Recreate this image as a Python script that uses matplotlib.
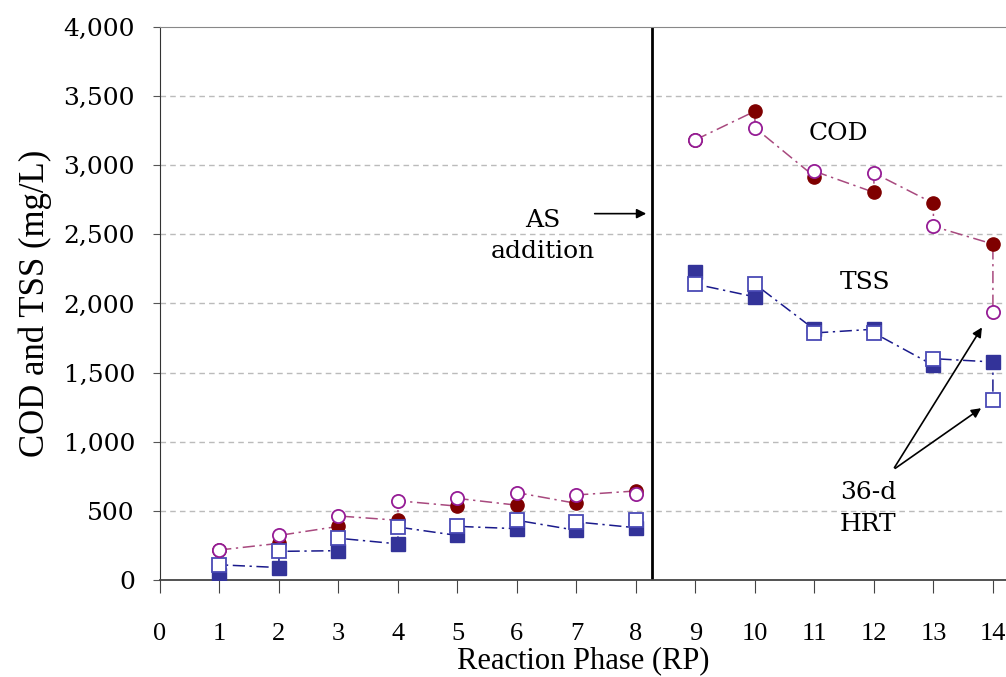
import numpy as np
import matplotlib
matplotlib.use("Agg")
import matplotlib.pyplot as plt

plt.rcParams['font.family'] = ['DejaVu Serif']

# reaction phases
rp = [1, 2, 3, 4, 5, 6, 7, 8, 9, 10, 11, 12, 13, 14]

# COD (mg/L): filled and open markers
cod_filled = [215, 265, 388, 432, 534, 541, 554, 644, 3184, 3391, 2918, 2804, 2725, 2430]
cod_open = [217, 322, 463, 573, 590, 632, 615, 622, 3184, 3271, 2957, 2944, 2558, 1942]

# TSS (mg/L): filled and open markers
tss_filled = [35, 90, 212, 261, 322, 371, 359, 378, 2229, 2048, 1812, 1814, 1553, 1577]
tss_open = [110, 207, 302, 383, 388, 432, 420, 432, 2140, 2140, 1787, 1787, 1601, 1304]

yticks = [0, 500, 1000, 1500, 2000, 2500, 3000, 3500, 4000]
ytick_labels = ['0', '500', '1,000', '1,500', '2,000', '2,500', '3,000', '3,500', '4,000']
xticks = list(range(0, 15))
as_addition_rp = 8.27
split = 8  # lines are not joined across the AS addition


def zigzag(x, a, b):
    # filled value then open value at each phase, in one path
    xs, ys = [], []
    for xi, ai, bi in zip(x, a, b):
        xs += [xi, xi]
        ys += [ai, bi]
    return xs, ys


fig = plt.figure(figsize=(10.06, 6.77), dpi=100)
ax = fig.add_axes([0.159, 0.1433, 0.841, 0.8168])

dash = (0, (8, 3, 1.5, 3))
for a, b, col in [(cod_filled, cod_open, '#A8497E'), (tss_filled, tss_open, '#1A1A8C')]:
    for sl in (slice(0, split), slice(split, None)):
        xs, ys = zigzag(rp[sl], a[sl], b[sl])
        ax.plot(xs, ys, color=col, lw=1.1, ls=dash, zorder=2)

ax.plot(rp, cod_filled, 'o', ms=9.5, color='#7F0000', mec='#7F0000', ls='none', zorder=3)
ax.plot(rp, tss_filled, 's', ms=9.5, color='#333399', mec='#333399', ls='none', zorder=3)
ax.plot(rp, tss_open, 's', ms=9.5, mfc='white', mec='#4A4AB5', mew=1.3, ls='none', zorder=4)
ax.plot(rp, cod_open, 'o', ms=9.5, mfc='white', mec='#951C95', mew=1.3, ls='none', zorder=4)

ax.axvline(as_addition_rp, color='black', lw=2, zorder=1)

ax.set_xlim(0, 14.22)
ax.set_ylim(0, 4000)
ax.set_xticks(xticks)
ax.set_xticklabels([str(v) for v in xticks], fontsize=19, family='Liberation Serif')
ax.set_yticks(yticks)
ax.set_yticklabels(ytick_labels, fontsize=18)
ax.tick_params(axis='x', direction='out', length=9, pad=22, color='#444444')
ax.tick_params(axis='y', direction='out', length=5, pad=13, color='#555555')

for y in yticks[1:-1]:
    ax.axhline(y, color='#BBBBBB', lw=1, ls=(0, (4, 3)), zorder=0)

ax.spines['right'].set_visible(False)
ax.spines['top'].set_color('#888888')
ax.spines['left'].set_color('#333333')
ax.spines['bottom'].set_color('#444444')
ax.spines['bottom'].set_linewidth(1.3)

ax.set_xlabel('Reaction Phase (RP)', fontsize=22, family='Liberation Serif', labelpad=1)
ax.set_ylabel('COD and TSS (mg/L)', fontsize=25, family='Liberation Serif', labelpad=8)

ax.text(11.4, 3230, 'COD', fontsize=18, ha='center', va='center')
ax.text(11.85, 2150, 'TSS', fontsize=18, ha='center', va='center')
ax.text(6.44, 2490, 'AS\naddition', fontsize=18, ha='center', va='center', linespacing=1.45)
ax.annotate('', xy=(8.22, 2650), xytext=(7.26, 2650),
            arrowprops=dict(arrowstyle='-|>', color='black', lw=1.2, mutation_scale=14))

ax.text(11.9, 520, '36-d\nHRT', fontsize=18, ha='center', va='center', linespacing=1.5)
for ty in [1844, 1254]:
    ax.annotate('', xy=(13.84, ty), xytext=(12.32, 796),
                arrowprops=dict(arrowstyle='-|>', color='black', lw=1.2, mutation_scale=14))

fig.savefig('out.png', dpi=100)
